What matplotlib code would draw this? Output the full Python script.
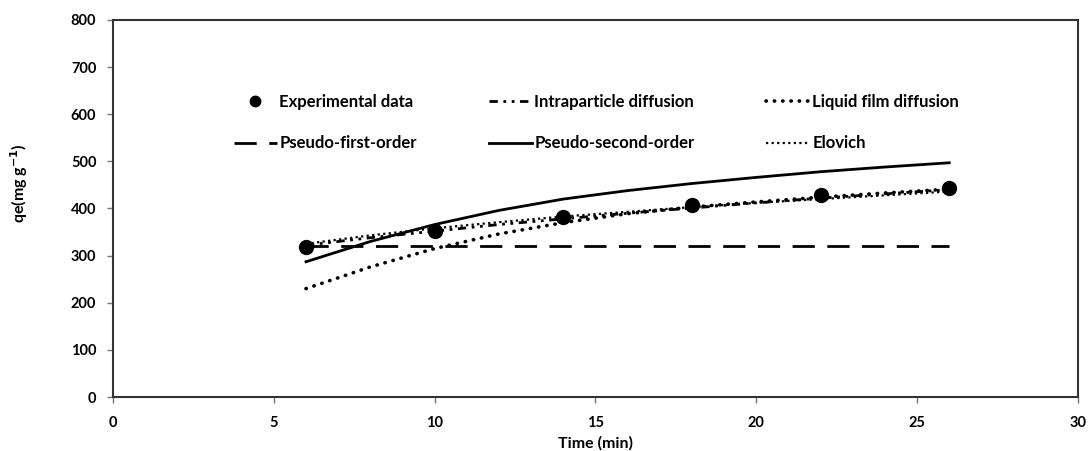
import matplotlib
matplotlib.use("Agg")
import matplotlib.pyplot as plt

plt.rcParams['font.family'] = ['Lato', 'DejaVu Sans']
plt.rcParams['font.weight'] = 'bold'

# time points (min)
t_exp = [6, 10, 14, 18, 22, 26]
q_exp = [319, 353, 382, 408, 429, 444]

t_fit = [6, 8, 10, 12, 14, 16, 18, 20, 22, 24, 26]
q_pfo = [320, 320, 320, 320, 320, 320, 320, 320, 320, 320, 320]
q_pso = [287, 330, 366, 396, 420, 438, 453, 466, 478, 488, 497]
q_intra = [322, 338, 352, 366, 378, 390, 401, 412, 422, 431, 440]
q_film = [230, 276, 315, 346, 370, 389, 403, 414, 424, 433, 441]
q_elov = [325, 343, 358, 371, 383, 393, 403, 412, 420, 428, 436]

fig = plt.figure(figsize=(10.89, 4.51), dpi=100)
ax = fig.add_axes([0.1038, 0.1197, 0.886, 0.836])

ax.plot(t_exp, q_exp, 'o', color='black', markersize=10, label='Experimental data', zorder=5)
ax.plot(t_fit, q_pfo, color='black', lw=2, dashes=(8, 4.5), label='Pseudo-first-order')
ax.plot(t_fit, q_intra, color='black', lw=2, dashes=(3, 2, 1, 2, 1, 2), label='Intraparticle diffusion')
ax.plot(t_fit, q_pso, color='black', lw=2, label='Pseudo-second-order')
ax.plot(t_fit, q_film, color='black', lw=2.6, dashes=(0.1, 2.2), dash_capstyle='round',
        label='Liquid film diffusion')
ax.plot(t_fit, q_elov, color='black', lw=1.6, dashes=(1, 1.5), label='Elovich')

ax.set_xlim(0, 30)
ax.set_ylim(0, 800)
ax.set_xticks(range(0, 31, 5))
ax.set_yticks(range(0, 801, 100))
ax.tick_params(direction='out', length=4, width=1, color='#777777', labelsize=10.5)
ax.tick_params(axis='x', pad=10)
ax.tick_params(axis='y', pad=8)
for s in ax.spines.values():
    s.set_linewidth(1.5)
    s.set_color('#333333')

ax.set_xlabel('Time (min)', fontsize=11.5, fontweight='bold', labelpad=4)
ax.set_ylabel('qe(mg g$^{-1}$)', fontsize=11.5, fontweight='bold')
ax.yaxis.set_label_coords(-0.086, 0.568)

ax.legend(ncol=3, frameon=False, loc='upper left', bbox_to_anchor=(0.125, 0.805),
          borderpad=0, borderaxespad=0, markerscale=0.75,
          handlelength=2.6, handletextpad=0.15, columnspacing=4.3,
          labelspacing=1.55, prop={'weight': 'bold', 'size': 12})

fig.savefig('out.png', dpi=100)
